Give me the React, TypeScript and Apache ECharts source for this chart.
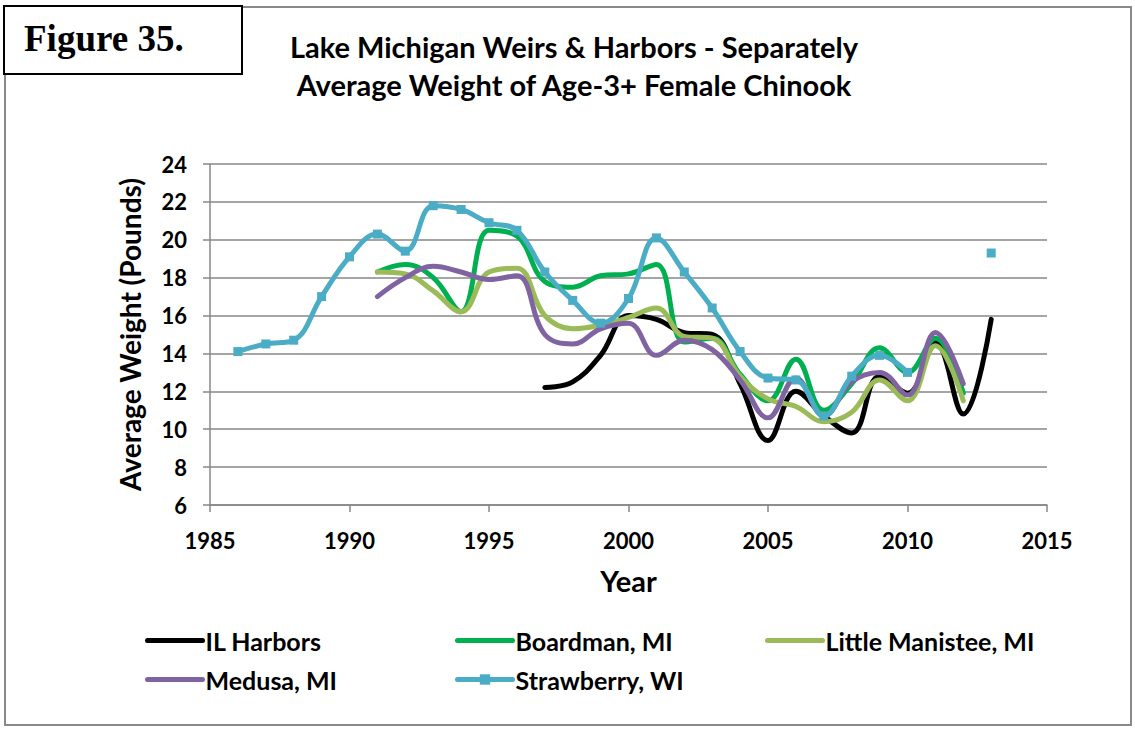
import React, { useEffect, useRef } from "react";
import * as echarts from "echarts";

const years = [
  1986, 1987, 1988, 1989, 1990, 1991, 1992, 1993, 1994, 1995, 1996, 1997, 1998, 1999,
  2000, 2001, 2002, 2003, 2004, 2005, 2006, 2007, 2008, 2009, 2010, 2011, 2012, 2013,
];

const ilHarbors = [
  null, null, null, null, null, null, null, null, null, null, null, 12.2, 12.5, 13.9,
  16.0, 15.8, 15.1, 15.0, 12.4, 9.4, 12.0, 10.7, 9.8, 12.8, 11.9, 14.6, 10.8, 15.8,
];
const boardman = [
  null, null, null, null, null, 18.3, 18.7, 18.0, 16.2, 20.5, 20.2, 17.8, 17.5, 18.1,
  18.2, 18.7, 14.6, 14.8, 12.9, 11.5, 13.7, 11.0, 12.4, 14.3, 13.0, 14.8, 11.9, null,
];
const littleManistee = [
  null, null, null, null, null, 18.3, 18.2, 17.3, 16.2, 18.3, 18.5, 16.0, 15.3, 15.5,
  15.9, 16.4, 14.9, 14.8, 12.8, 11.6, 11.2, 10.4, 10.9, 12.6, 11.5, 14.4, 11.5, null,
];
const medusa = [
  null, null, null, null, null, 17.0, 18.0, 18.6, 18.3, 17.9, 18.1, 15.0, 14.5, 15.3,
  15.6, 13.9, 14.7, 14.2, 12.6, 10.6, 12.7, 10.7, 12.5, 13.0, 11.8, 15.1, 12.4, null,
];
const strawberry = [
  14.1, 14.5, 14.7, 17.0, 19.1, 20.3, 19.4, 21.8, 21.6, 20.9, 20.5, 18.3, 16.8, 15.6,
  16.9, 20.1, 18.3, 16.4, 14.1, 12.7, 12.6, 10.7, 12.8, 13.9, 13.0, null, null, 19.3,
];

const seriesNames = ["IL Harbors", "Boardman, MI", "Little Manistee, MI", "Medusa, MI", "Strawberry, WI"];
const seriesValues = [ilHarbors, boardman, littleManistee, medusa, strawberry];
const seriesColors = ["#000000", "#00B050", "#9BBB59", "#8064A2", "#4BACC6"];

const xTicks = { min: 1985, max: 2015, interval: 5 };
const yTicks = { min: 6, max: 24, interval: 2 };

const titleLines = ["Lake Michigan Weirs & Harbors - Separately", "Average Weight of Age-3+ Female Chinook"];
const figureLabel = "Figure 35.";
const xAxisTitle = "Year";
const yAxisTitle = "Average Weight (Pounds)";

const FONT = "Lato";

export default function App() {
  const ref = useRef<HTMLDivElement>(null);

  useEffect(() => {
    if (!ref.current) return;
    const chart = echarts.init(ref.current, null, { renderer: "svg" });

    const legendPos = [
      { left: 140, top: 623 },
      { left: 450, top: 623 },
      { left: 760, top: 623 },
      { left: 140, top: 662 },
      { left: 450, top: 662 },
    ];

    const option: any = {
      animation: false,
      backgroundColor: "#ffffff",
      title: {
        text: titleLines.join("\n"),
        left: 569,
        top: 22,
        textAlign: "center",
        textStyle: {
          fontFamily: FONT,
          fontWeight: "bold",
          fontSize: 29,
          lineHeight: 38,
          color: "#000",
        },
      },
      graphic: [
        {
          type: "rect",
          shape: { x: 5, y: 7, width: 1126, height: 718 },
          style: { fill: "none", stroke: "#898989", lineWidth: 2 },
          silent: true,
        },
        {
          type: "rect",
          shape: { x: 4, y: 6, width: 238, height: 68 },
          style: { fill: "#fff", stroke: "#000", lineWidth: 2 },
          silent: true,
        },
        {
          type: "text",
          x: 24,
          y: 38,
          style: {
            text: figureLabel,
            fontFamily: "Liberation Serif",
            fontWeight: "bold",
            fontSize: 37,
            fill: "#000",
            textVerticalAlign: "middle",
          },
          silent: true,
        },
      ],
      legend: seriesNames.map((name, i) => ({
        data: [name],
        left: legendPos[i].left,
        top: legendPos[i].top,
        itemWidth: 55,
        itemHeight: 13,
        itemGap: 0,
        selectedMode: false,
        lineStyle: { width: 5, cap: "round" },
        itemStyle: i === 4 ? {} : { opacity: 0 },
        textStyle: { fontFamily: FONT, fontWeight: "bold", fontSize: 25, color: "#000", padding: [0, 0, 0, -2] },
      })),
      grid: { left: 210, right: 88, top: 164, bottom: 224, containLabel: false },
      xAxis: {
        type: "value",
        min: xTicks.min,
        max: xTicks.max,
        interval: xTicks.interval,
        name: xAxisTitle,
        nameLocation: "middle",
        nameGap: 61,
        nameTextStyle: { fontFamily: FONT, fontWeight: "bold", fontSize: 29, color: "#000" },
        axisLine: { show: true, lineStyle: { color: "#878787", width: 1.5 } },
        axisTick: { show: true, length: 7, lineStyle: { color: "#878787", width: 1.5 } },
        axisLabel: {
          fontFamily: FONT,
          fontWeight: "bold",
          fontSize: 22,
          color: "#000",
          margin: 24,
          formatter: (v: number) => String(v),
        },
        splitLine: { show: false },
      },
      yAxis: {
        type: "value",
        min: yTicks.min,
        max: yTicks.max,
        interval: yTicks.interval,
        name: yAxisTitle,
        nameLocation: "middle",
        nameRotate: 90,
        nameGap: 66,
        nameTextStyle: { fontFamily: FONT, fontWeight: "bold", fontSize: 28, color: "#000" },
        axisLine: { show: true, lineStyle: { color: "#878787", width: 1.5 } },
        axisTick: { show: true, length: 7, lineStyle: { color: "#878787", width: 1.5 } },
        axisLabel: { fontFamily: FONT, fontWeight: "bold", fontSize: 22, color: "#000", margin: 23 },
        splitLine: { show: true, lineStyle: { color: "#878787", width: 1.5 } },
      },
      series: seriesNames.map((name, i) => {
        const isStraw = i === 4;
        return {
          name,
          type: "line",
          smooth: 0.4,
          data: years.map((y, k) => [y, seriesValues[i][k] == null ? "-" : seriesValues[i][k]]),
          connectNulls: false,
          symbol: isStraw ? "rect" : "none",
          symbolSize: isStraw ? 9 : 0,
          showSymbol: isStraw,
          showAllSymbol: true,
          itemStyle: { color: seriesColors[i] },
          lineStyle: { color: seriesColors[i], width: 5, cap: "round" },
          emphasis: { disabled: true },
          z: 2 + i,
        };
      }),
    };

    chart.setOption(option);
    return () => chart.dispose();
  }, []);

  return (
    <div
      ref={ref}
      style={{ position: "fixed", left: 0, top: 0, width: 1135, height: 729, background: "#fff" }}
    />
  );
}
